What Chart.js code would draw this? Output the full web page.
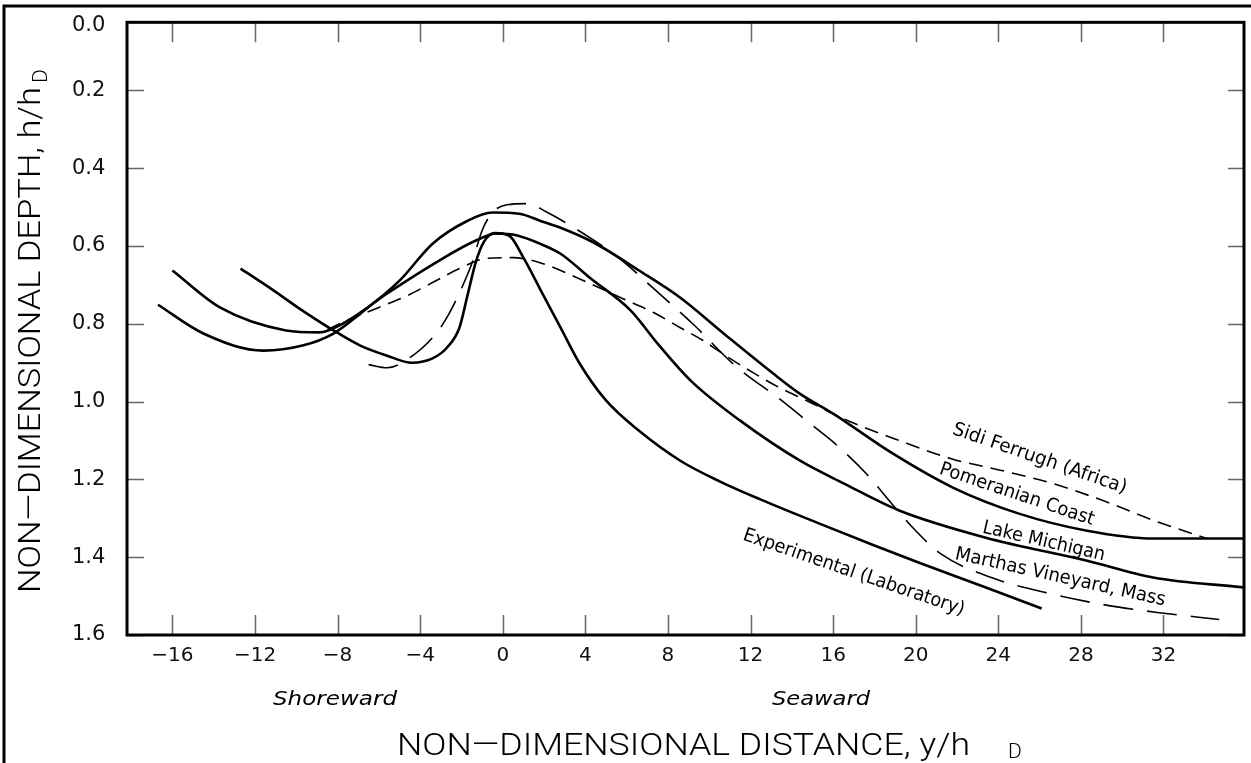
<!DOCTYPE html>
<html>
<head>
<meta charset="utf-8">
<script src="https://cdn.jsdelivr.net/npm/chart.js@4.4.1/dist/chart.umd.min.js"></script>
<style>
  html, body { margin: 0; padding: 0; background: #fff; }
  canvas { display: block; }
</style>
</head>
<body>
<canvas id="bars" width="1251" height="763"></canvas>
<script>
// ------------------------
// Data
// ------------------------

const xTicks = [-16, -12, -8, -4, 0, 4, 8, 12, 16, 20, 24, 28, 32];
const yTicks = [0, 0.2, 0.4, 0.6, 0.8, 1.0, 1.2, 1.4, 1.6];

// Experimental (Laboratory) - solid
const labX = [-12.7, -11.3, -9.7, -8.2, -6.9, -5.6, -4.4, -3.4, -2.7, -2.1, -1.7, -1.3, -0.9, -0.4, 0.3, 1.0, 1.8, 2.8, 3.7, 5.0, 6.6, 8.6, 10.5, 12.5, 15.4, 18.0, 20.2, 23.4, 26.1];
const labY = [0.658, 0.707, 0.766, 0.817, 0.856, 0.882, 0.900, 0.889, 0.861, 0.810, 0.725, 0.640, 0.588, 0.567, 0.573, 0.630, 0.710, 0.810, 0.900, 0.997, 1.075, 1.152, 1.205, 1.252, 1.315, 1.370, 1.415, 1.478, 1.532];

// Lake Michigan - solid
const lakeX = [-16.0, -13.7, -10.5, -8.9, -7.6, -5.6, -3.1, -1.3, -0.3, 0.7, 1.8, 2.8, 4.2, 6.2, 7.5, 9.1, 11.5, 14.4, 16.5, 19.2, 23.4, 28.3, 31.5, 35.9];
const lakeY = [0.663, 0.758, 0.817, 0.822, 0.795, 0.722, 0.638, 0.586, 0.568, 0.573, 0.594, 0.620, 0.681, 0.766, 0.851, 0.946, 1.049, 1.152, 1.210, 1.280, 1.350, 1.409, 1.452, 1.478];

// Pomeranian Coast - solid
const pomX = [-16.7, -14.5, -11.6, -9.7, -8.2, -6.9, -5.0, -3.4, -1.7, -0.5, 0.8, 1.8, 2.8, 4.4, 6.6, 8.6, 10.7, 13.1, 14.4, 16.0, 18.9, 21.8, 25.0, 28.3, 31.5, 35.9];
const pomY = [0.751, 0.825, 0.869, 0.856, 0.825, 0.774, 0.689, 0.594, 0.535, 0.514, 0.517, 0.535, 0.553, 0.591, 0.663, 0.733, 0.825, 0.928, 0.980, 1.031, 1.134, 1.221, 1.288, 1.332, 1.352, 1.352];

// Sidi Ferrugh (Africa) - short dashes
const sidiX = [-8.5, -7.6, -6.0, -4.6, -3.4, -2.1, -0.8, 0.5, 1.8, 3.7, 5.8, 7.3, 8.6, 9.7, 10.8, 12.1, 13.4, 14.7, 16.5, 19.2, 21.8, 24.4, 26.6, 29.1, 31.5, 34.1];
const sidiY = [0.815, 0.792, 0.758, 0.727, 0.694, 0.658, 0.632, 0.630, 0.643, 0.684, 0.735, 0.771, 0.810, 0.843, 0.882, 0.925, 0.964, 0.997, 1.044, 1.100, 1.148, 1.180, 1.210, 1.255, 1.305, 1.352];

// Marthas Vineyard, Mass - long dashes
const marthaX = [-6.5, -5.6, -4.5, -3.2, -2.6, -1.9, -1.5, -1.0, -0.5, 0.2, 1.2, 2.1, 3.6, 5.6, 7.3, 9.3, 11.2, 13.5, 14.9, 16.2, 17.6, 18.8, 20.0, 21.2, 23.8, 26.3, 29.1, 31.7, 34.7];
const marthaY = [0.905, 0.913, 0.887, 0.823, 0.774, 0.697, 0.645, 0.560, 0.514, 0.494, 0.491, 0.512, 0.558, 0.630, 0.709, 0.805, 0.905, 0.997, 1.057, 1.113, 1.185, 1.260, 1.332, 1.391, 1.455, 1.491, 1.522, 1.542, 1.560];

// Curve captions: [text, x, y, angle in degrees, width px]
const captions = [
    ['Sidi Ferrugh (Africa)', 26.0, 1.147, 19, 183],
    ['Pomeranian Coast', 24.9, 1.239, 18.6, 162],
    ['Lake Michigan', 26.2, 1.360, 13, 125],
    ['Marthas Vineyard, Mass', 27.0, 1.452, 12.5, 215],
    ['Experimental (Laboratory)', 17.0, 1.440, 19, 233]
];

const FRAME_TOP = 0.025;   // box top sits a little below the 0.0 tick

// ------------------------
// Helpers
// ------------------------

const zip = (xs, ys) => xs.map((x, i) => ({ x, y: ys[i] }));

const curve = (xs, ys, dash, width) => ({
    data: zip(xs, ys),
    borderColor: '#000',
    borderWidth: width,
    borderDash: dash,
    showLine: true,
    pointRadius: 0,
    cubicInterpolationMode: 'monotone',
    fill: false
});

// draw text squeezed/stretched to a given width
const fitText = (ctx, text, w) => {
    const m = ctx.measureText(text).width;
    ctx.save();
    ctx.scale(w / m, 1);
    ctx.fillText(text, 0, 0);
    ctx.restore();
};

const TITLE_FONT = '300 32px Roboto, "DejaVu Sans", sans-serif';
const SUB_FONT = '300 21px Roboto, "DejaVu Sans", sans-serif';

// ------------------------
// Decorations plugin
// ------------------------

const decorations = {
    id: 'decorations',
    afterDraw(chart) {
        const { ctx, chartArea: a, scales: { x, y } } = chart;
        const top = y.getPixelForValue(FRAME_TOP);

        // inward tick marks
        ctx.save();
        ctx.strokeStyle = '#666';
        ctx.lineWidth = 1.5;
        ctx.beginPath();
        xTicks.forEach(v => {
            const px = Math.round(x.getPixelForValue(v)) + 0.5;
            ctx.moveTo(px, a.bottom); ctx.lineTo(px, a.bottom - 20);
            ctx.moveTo(px, top); ctx.lineTo(px, top + 20);
        });
        yTicks.forEach(v => {
            if (v < FRAME_TOP) return;
            const py = Math.round(y.getPixelForValue(v)) + 0.5;
            ctx.moveTo(a.left, py); ctx.lineTo(a.left + 17, py);
            ctx.moveTo(a.right, py); ctx.lineTo(a.right - 16, py);
        });
        ctx.stroke();

        // plot frame
        ctx.strokeStyle = '#000';
        ctx.lineWidth = 3;
        ctx.strokeRect(a.left, top, a.right - a.left, a.bottom - top);

        // outer figure frame (top and left only visible)
        ctx.beginPath();
        ctx.moveTo(4, chart.height); ctx.lineTo(4, 6); ctx.lineTo(chart.width, 6);
        ctx.stroke();

        // curve captions
        ctx.fillStyle = '#000';
        ctx.textAlign = 'center';
        ctx.textBaseline = 'middle';
        ctx.font = '19px "DejaVu Sans", sans-serif';
        captions.forEach(([text, cx, cy, ang, w]) => {
            ctx.save();
            ctx.translate(x.getPixelForValue(cx), y.getPixelForValue(cy));
            ctx.rotate(ang * Math.PI / 180);
            fitText(ctx, text, w);
            ctx.restore();
        });

        // Shoreward / Seaward
        ctx.textAlign = 'left';
        ctx.textBaseline = 'alphabetic';
        ctx.font = 'italic 20px "DejaVu Sans", sans-serif';
        ctx.save(); ctx.translate(273, 705); fitText(ctx, 'Shoreward', 124); ctx.restore();
        ctx.save(); ctx.translate(772, 705); fitText(ctx, 'Seaward', 98); ctx.restore();

        // x axis title with subscript
        ctx.font = TITLE_FONT;
        ctx.save(); ctx.translate(397, 755); fitText(ctx, 'NON\u2014DIMENSIONAL DISTANCE, y/h', 573); ctx.restore();
        ctx.font = SUB_FONT;
        ctx.fillText('D', 1008, 758);

        // y axis title with subscript
        ctx.save();
        ctx.translate(40, 593);
        ctx.rotate(-Math.PI / 2);
        ctx.font = TITLE_FONT;
        fitText(ctx, 'NON\u2014DIMENSIONAL DEPTH, h/h', 506);
        ctx.font = SUB_FONT;
        ctx.fillText('D', 510, 7);
        ctx.restore();

        ctx.restore();
    }
};

// ------------------------
// Chart
// ------------------------

new Chart(document.getElementById('bars').getContext('2d'), {
    type: 'scatter',
    data: {
        datasets: [
            curve(labX, labY, [], 2.6),
            curve(lakeX, lakeY, [], 2.6),
            curve(pomX, pomY, [], 2.6),
            curve(sidiX, sidiY, [14, 8], 1.6),
            curve(marthaX, marthaY, [30, 14], 1.6)
        ]
    },
    options: {
        responsive: false,
        animation: false,
        layout: { padding: { top: 12, right: 7, left: 72, bottom: 0 } },
        plugins: { legend: { display: false }, tooltip: { enabled: false } },
        scales: {
            x: {
                type: 'linear',
                min: -18.2,
                max: 35.9,
                grid: { display: false, drawTicks: false },
                border: { display: false },
                afterBuildTicks: s => { s.ticks = xTicks.map(value => ({ value })); },
                afterFit: s => { s.height = 128; },
                ticks: {
                    padding: 9,
                    color: '#111',
                    font: { family: '"DejaVu Sans", sans-serif', size: 20 },
                    maxRotation: 0,
                    callback: v => v < 0 ? '\u2212' + Math.abs(v) : String(v)
                }
            },
            y: {
                type: 'linear',
                reverse: true,
                min: 0,
                max: 1.6,
                grid: { display: false, drawTicks: false },
                border: { display: false },
                afterBuildTicks: s => { s.ticks = yTicks.map(value => ({ value })); },
                afterFit: s => { s.width = 55; },
                ticks: {
                    padding: 0,
                    crossAlign: 'far',
                    color: '#111',
                    font: { family: '"DejaVu Sans", sans-serif', size: 21 },
                    // the 0.0 label sits just inside the box top, one half line lower
                    callback: v => v === 0 ? ['', '0.0'] : v.toFixed(1)
                }
            }
        }
    },
    plugins: [decorations]
});
</script>
</body>
</html>
